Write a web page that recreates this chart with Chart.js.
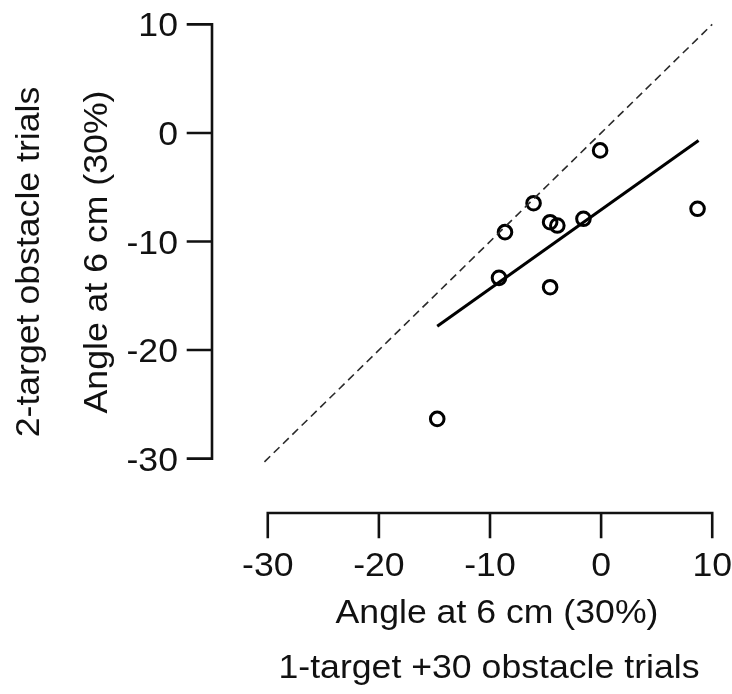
<!DOCTYPE html>
<html>
<head>
<meta charset="utf-8">
<script src="https://cdn.jsdelivr.net/npm/chart.js@4/dist/chart.umd.min.js"></script>
<style>
  body { margin: 0; background: #fff; }
  canvas { display: block; }
</style>
</head>
<body>
<canvas id="myChart" width="732" height="694"></canvas>
<script>
// values
const xVals = [-0.09, -6.08, -8.65, -4.59, -3.94, -1.59, -9.19, -4.59, 8.68, -14.75];
const yVals = [-1.61, -6.47, -9.14, -8.22, -8.53, -7.91, -13.35, -14.21, -6.99, -26.34];
const fitX = [-14.75, 8.77];
const fitY = [-17.8, -0.7];
const idX = [-30.3, 10];
const idY = [-30.3, 10];
const xTicks = [-30, -20, -10, 0, 10];
const yTicks = [-30, -20, -10, 0, 10];
const xTitle = 'Angle at 6 cm (30%)';
const xTitle2 = '1-target +30 obstacle trials';
const yTitle = 'Angle at 6 cm (30%)';
const yTitle2 = '2-target obstacle trials';

const fnt = '"Liberation Sans", Arial, Helvetica, sans-serif';
const stretch = 1.08; // text in the figure is a bit wider than Arial

function pairs(xs, ys) {
  return xs.map((x, i) => ({x: x, y: ys[i]}));
}

function txt(c, s, x, y, rot) {
  c.save();
  c.translate(x, y);
  if (rot) c.rotate(rot);
  c.scale(stretch, 1);
  c.fillText(s, 0, 0);
  c.restore();
}

// R style axes, drawn off the plot box
const rAxes = {
  id: 'rAxes',
  afterDraw(chart) {
    const c = chart.ctx;
    const sx = chart.scales.x, sy = chart.scales.y;
    c.save();
    c.strokeStyle = '#111';
    c.fillStyle = '#111';
    c.lineWidth = 2.6;
    c.lineCap = 'square';

    // x axis
    const ay = 513, tl = 24;
    c.beginPath();
    c.moveTo(sx.getPixelForValue(xTicks[0]), ay);
    c.lineTo(sx.getPixelForValue(xTicks[xTicks.length - 1]), ay);
    xTicks.forEach(t => {
      const px = sx.getPixelForValue(t);
      c.moveTo(px, ay);
      c.lineTo(px, ay + tl);
    });
    c.stroke();

    // y axis
    const ax = 212;
    c.beginPath();
    c.moveTo(ax, sy.getPixelForValue(yTicks[0]));
    c.lineTo(ax, sy.getPixelForValue(yTicks[yTicks.length - 1]));
    yTicks.forEach(t => {
      const py = sy.getPixelForValue(t);
      c.moveTo(ax, py);
      c.lineTo(ax - tl, py);
    });
    c.stroke();

    c.font = '33px ' + fnt;
    c.textBaseline = 'alphabetic';
    c.textAlign = 'center';
    xTicks.forEach(t => {
      txt(c, String(t), sx.getPixelForValue(t), 576);
    });
    c.textAlign = 'right';
    yTicks.forEach(t => {
      txt(c, String(t), 178, sy.getPixelForValue(t) + 12);
    });

    // titles
    c.textAlign = 'center';
    txt(c, xTitle, 497, 623);
    txt(c, xTitle2, 489, 678);
    txt(c, yTitle, 107, 252, -Math.PI / 2);
    txt(c, yTitle2, 39, 262, -Math.PI / 2);

    c.restore();
  }
};

const ctx = document.getElementById('myChart');
new Chart(ctx, {
  type: 'scatter',
  data: {
    datasets: [
      {
        label: 'identity',
        type: 'line',
        data: pairs(idX, idY),
        borderColor: '#2a2a2a',
        borderWidth: 1.6,
        borderDash: [8, 5],
        pointRadius: 0,
        fill: false
      },
      {
        label: 'fit',
        type: 'line',
        data: pairs(fitX, fitY),
        borderColor: '#000',
        borderWidth: 3,
        pointRadius: 0,
        fill: false
      },
      {
        label: 'trials',
        data: pairs(xVals, yVals),
        pointStyle: 'circle',
        pointRadius: 6.8,
        pointHoverRadius: 6.8,
        pointBorderWidth: 3,
        borderColor: '#000',
        backgroundColor: 'rgba(0,0,0,0)'
      }
    ]
  },
  plugins: [rAxes],
  options: {
    responsive: false,
    animation: false,
    events: [],
    layout: { autoPadding: false, padding: { left: 250, right: 2, top: 7, bottom: 218 } },
    plugins: {
      legend: { display: false },
      tooltip: { enabled: false }
    },
    scales: {
      x: { type: 'linear', min: -31.6, max: 11.6, display: false },
      y: { type: 'linear', min: -31.6, max: 11.6, display: false }
    }
  }
});
</script>
</body>
</html>
